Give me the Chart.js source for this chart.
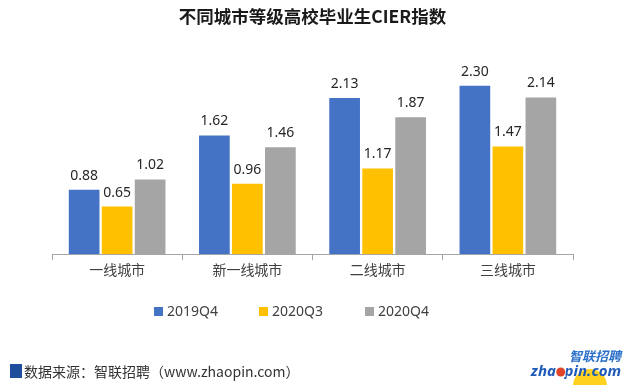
<!DOCTYPE html>
<html>
<head>
<meta charset="utf-8">
<script src="https://cdn.jsdelivr.net/npm/chart.js@4"></script>
<style>
  body { margin: 0; background: #fff; }
  #wrap { width: 640px; height: 385px; }
</style>
</head>
<body>
<div id="wrap"><canvas id="c" width="640" height="385"></canvas></div>
<script>
// データ
const categories = ["一线城市", "新一线城市", "二线城市", "三线城市"];
const seriesNames = ["2019Q4", "2020Q3", "2020Q4"];
const v2019Q4 = [0.88, 1.62, 2.13, 2.30];
const v2020Q3 = [0.65, 0.96, 1.17, 1.47];
const v2020Q4 = [1.02, 1.46, 1.87, 2.14];
const colors = ["#4472C4", "#FFC000", "#A5A5A5"];

const FONT = "'Noto Sans', 'Noto Sans CJK SC', sans-serif";
const CJK = "'Noto Sans CJK SC', sans-serif";

// 棒の上に数値を描く
const valueLabels = {
  id: "valueLabels",
  afterDatasetsDraw(chart) {
    const ctx = chart.ctx;
    ctx.save();
    ctx.font = "14px " + FONT;
    ctx.fillStyle = "#262626";
    ctx.textAlign = "center";
    ctx.textBaseline = "bottom";
    chart.data.datasets.forEach((ds, i) => {
      chart.getDatasetMeta(i).data.forEach((bar, j) => {
        ctx.fillText(ds.data[j].toFixed(2), bar.x, bar.y - 7);
      });
    });
    ctx.restore();
  }
};

// 凡例（元図と同じ位置に描く）
const legendRow = {
  id: "legendRow",
  afterDraw(chart) {
    const ctx = chart.ctx;
    const xs = [154, 259, 365];
    ctx.save();
    ctx.font = "14px " + FONT;
    ctx.textBaseline = "middle";
    chart.data.datasets.forEach((ds, i) => {
      ctx.fillStyle = ds.backgroundColor;
      ctx.fillRect(xs[i], 307, 9, 9);
      ctx.fillStyle = "#404040";
      ctx.fillText(ds.label, xs[i] + 13, 312);
    });
    ctx.restore();
  }
};

// 出典とロゴ
const footer = {
  id: "footer",
  afterDraw(chart) {
    const ctx = chart.ctx;
    ctx.save();
    ctx.fillStyle = "#1F4E9C";
    ctx.fillRect(10, 364, 12, 14);
    ctx.fillStyle = "#333";
    ctx.font = "14px " + CJK;
    ctx.textBaseline = "middle";
    ctx.fillText("数据来源：智联招聘（www.zhaopin.com）", 24, 372);

    // ロゴ：黄色の半円
    ctx.fillStyle = "#FFD21F";
    ctx.beginPath();
    ctx.arc(590, 386, 17, Math.PI, 0);
    ctx.fill();
    ctx.font = "italic bold 13px " + CJK;
    ctx.fillStyle = "#2A6FC9";
    ctx.textAlign = "right";
    ctx.fillText("智联招聘", 621, 356);
    ctx.font = "italic bold 15px " + FONT;
    ctx.fillStyle = "#1E5BB8";
    const word = "zhaopin.com";
    ctx.fillText(word, 621, 372);
    // "o" の位置に赤い玉
    ctx.textAlign = "left";
    const w = ctx.measureText(word).width;
    const x0 = 621 - w + ctx.measureText("zha").width;
    const ow = ctx.measureText("o").width;
    ctx.fillStyle = "#fff";
    ctx.fillRect(x0, 366, ow + 1, 11);
    ctx.fillStyle = "#E0442A";
    ctx.beginPath();
    ctx.arc(x0 + ow / 2 + 0.5, 372, 4.5, 0, Math.PI * 2);
    ctx.fill();
    ctx.restore();
  }
};

new Chart(document.getElementById("c"), {
  type: "bar",
  data: {
    labels: categories,
    datasets: [
      { label: seriesNames[0], data: v2019Q4, backgroundColor: colors[0] },
      { label: seriesNames[1], data: v2020Q3, backgroundColor: colors[1] },
      { label: seriesNames[2], data: v2020Q4, backgroundColor: colors[2] }
    ]
  },
  options: {
    responsive: false,
    animation: false,
    devicePixelRatio: 1,
    layout: { padding: { left: 52, right: 67, top: 0, bottom: 106 } },
    datasets: { bar: { categoryPercentage: 0.76, barPercentage: 0.93 } },
    scales: {
      x: {
        grid: { display: true, drawOnChartArea: false, drawTicks: true, tickLength: 6, color: "#A6A6A6", offset: true },
        border: { display: true, color: "#A6A6A6" },
        ticks: { color: "#404040", font: { size: 14, family: CJK }, padding: 1 }
      },
      y: { display: false, min: 0, max: 2.5 }
    },
    plugins: {
      title: {
        display: true,
        text: "不同城市等级高校毕业生CIER指数",
        color: "#1a1a1a",
        font: { size: 17.5, weight: "bold", family: CJK },
        padding: { top: 6, bottom: 44 }
      },
      legend: { display: false },
      tooltip: { enabled: false }
    }
  },
  plugins: [valueLabels, legendRow, footer]
});
</script>
</body>
</html>
